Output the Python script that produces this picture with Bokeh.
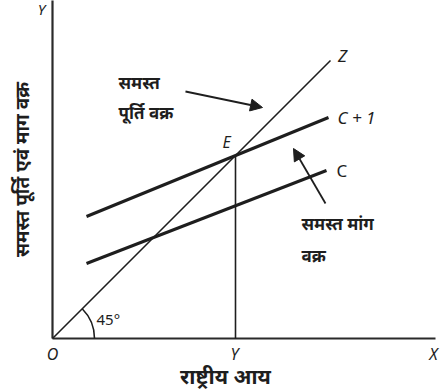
from math import pi

from bokeh.core.properties import value
from bokeh.embed import file_html
from bokeh.models import Arrow, NormalHead, Range1d
from bokeh.plotting import figure
from bokeh.resources import INLINE

# Keynesian cross: aggregate supply (45° line) and two aggregate demand curves
supply_x = [0, 278]
supply_y = [0, 278]
demand_c1_x = [34, 276]
demand_c1_y = [122, 221]
demand_c_x = [34, 274]
demand_c_y = [75, 168]
equilibrium_x = 183
equilibrium_y = 183
axis_x_end = 383
axis_y_end = 345

x_title = "राष्ट्रीय आय"
y_title = "समस्त पूर्ति एवं माग वक्र"
supply_label = ["समस्त", "पूर्ति वक्र"]
demand_label = ["समस्त मांग", "वक्र"]

FONT = value("Noto Sans")
INK = "#1e1e1e"

p = figure(width=440, height=389, output_backend="svg", toolbar_location=None,
           x_range=Range1d(-52, 388), y_range=Range1d(-51, 338),
           min_border=0, outline_line_color=None, background_fill_color="white",
           border_fill_color="white")
p.axis.visible = False
p.grid.visible = False

# axes
p.line([0, axis_x_end], [0, 0], line_color="#2a2a2a", line_width=2.2)
p.line([0, 0], [0, axis_y_end], line_color="#2a2a2a", line_width=2.2)

# 45° supply line and the two demand curves
p.line(supply_x, supply_y, line_color=INK, line_width=1.6)
p.line(demand_c1_x, demand_c1_y, line_color=INK, line_width=3)
p.line(demand_c_x, demand_c_y, line_color=INK, line_width=3)

# drop line from equilibrium E to the income axis
p.line([equilibrium_x, equilibrium_x], [0, equilibrium_y], line_color=INK, line_width=1.6)

# 45° angle marker
p.arc(x=0, y=0, radius=42, start_angle=0, end_angle=pi / 4, line_color=INK, line_width=1.6)
p.text(x=[44], y=[20], text=["45°"], text_font=FONT, text_font_size="15px",
       text_align="left", text_baseline="middle", text_color=INK)

# point and end labels
p.text(x=[equilibrium_x - 9], y=[197], text=["E"], text_font=FONT, text_font_size="16px",
       text_font_style="italic", text_align="center", text_baseline="middle", text_color=INK)
p.text(x=[290], y=[283], text=["Z"], text_font=FONT, text_font_size="17px",
       text_font_style="italic", text_align="center", text_baseline="middle", text_color=INK)
p.text(x=[285], y=[221], text=["C + 1"], text_font=FONT, text_font_size="17px",
       text_font_style="italic", text_align="left", text_baseline="middle", text_color=INK)
p.text(x=[284], y=[168], text=["C"], text_font=FONT, text_font_size="17px",
       text_align="left", text_baseline="middle", text_color=INK)

# axis end labels
p.text(x=[0], y=[-15], text=["O"], text_font=FONT, text_font_size="16px",
       text_font_style="italic", text_align="center", text_baseline="middle", text_color=INK)
p.text(x=[equilibrium_x - 1], y=[-15], text=["Y"], text_font=FONT, text_font_size="16px",
       text_font_style="italic", text_align="center", text_baseline="middle", text_color=INK)
p.text(x=[381], y=[-15], text=["X"], text_font=FONT, text_font_size="16px",
       text_font_style="italic", text_align="center", text_baseline="middle", text_color=INK)
p.text(x=[-11], y=[330], text=["Y"], text_font=FONT, text_font_size="15px",
       text_font_style="italic", text_align="center", text_baseline="middle", text_color=INK)

# axis titles
p.text(x=[173], y=[-37], text=[x_title], text_font=FONT, text_font_size="21px",
       text_font_style="bold", text_align="center", text_baseline="middle", text_color=INK)
p.text(x=[-31], y=[169], text=[y_title], text_font=FONT, text_font_size="19px",
       text_font_style="bold", angle=pi / 2, text_align="center", text_baseline="middle",
       text_color=INK)

# curve annotations with pointer arrows
p.text(x=[66, 66], y=[256, 226], text=supply_label, text_font=FONT, text_font_size="17px",
       text_font_style="bold", text_align="left", text_baseline="middle", text_color=INK)
p.text(x=[249, 249], y=[115, 83], text=demand_label, text_font=FONT, text_font_size="17px",
       text_font_style="bold", text_align="left", text_baseline="middle", text_color=INK)

p.add_layout(Arrow(end=NormalHead(size=12, fill_color=INK, line_color=INK),
                   x_start=133, y_start=247, x_end=210, y_end=231,
                   line_color=INK, line_width=1.8))
p.add_layout(Arrow(end=NormalHead(size=12, fill_color=INK, line_color=INK),
                   x_start=273, y_start=135, x_end=241, y_end=190,
                   line_color=INK, line_width=1.8))

open("out.html", "w").write(file_html(p, INLINE))
